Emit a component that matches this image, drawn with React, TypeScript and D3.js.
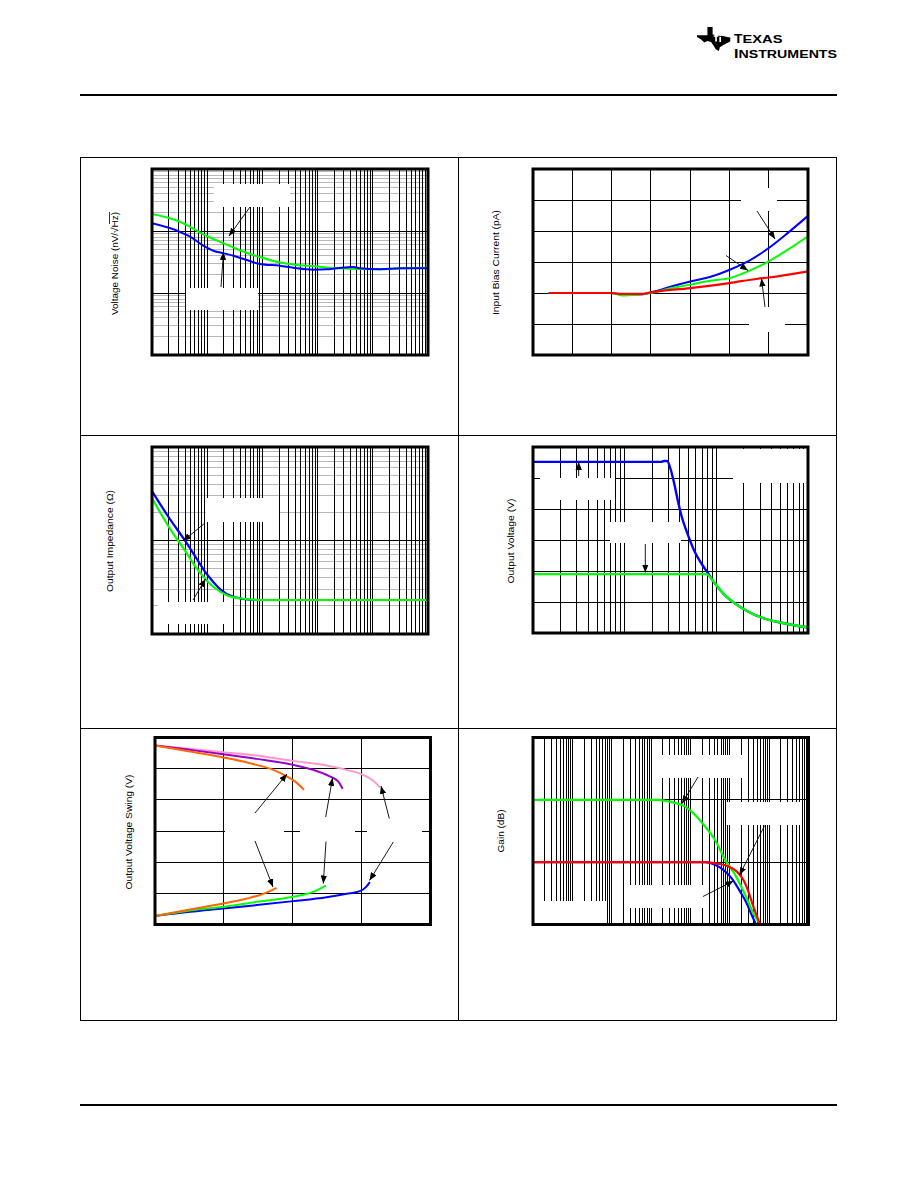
import React from 'react';
import * as d3 from 'd3';

type Pt = [number, number];
const zip = (xs: number[], ys: number[]): Pt[] => xs.map((x, i) => [x, ys[i]] as Pt);

// ---------------- Panel 1: Voltage noise vs frequency ----------------
const noiseGreenFreq = [1, 3.2, 4.9, 8.5, 20, 39, 90, 208, 418, 1100, 2220, 13500, 35700, 100000];
const noiseGreenVal = [188, 141, 117, 88, 63, 49, 38, 31, 28.3, 26.5, 25, 24.1, 25, 25.6];
const noiseBlueFreq = [1, 3.2, 4.9, 8.5, 12.9, 20, 29.7, 52, 90, 208, 363, 836, 1460, 2220, 4430, 5860, 13500, 31000, 100000];
const noiseBlueVal = [133, 97, 81, 58, 48, 43.6, 40, 34, 29.4, 27.5, 25.6, 23.8, 24.1, 25, 26.3, 25, 24.1, 25, 25];

// ---------------- Panel 2: Input bias current vs temperature ----------------
const biasTempBlue = [-40, 0, 7.3, 17.9, 25.3, 38, 50.1, 63.5, 75.2, 86.8, 100, 112.2, 125];
const biasBlue = [0, 0, -0.5, -0.5, 0.2, 2.1, 3.7, 5.3, 7.5, 10.2, 14.5, 19.4, 24.9];
const biasTempGreen = [-40, 0, 7.3, 25.3, 38, 50.1, 63.5, 75.2, 86.8, 100, 112.2, 125];
const biasGreen = [0, 0, -0.8, 0, 1.6, 2.7, 4.0, 4.8, 7.0, 10.2, 14.0, 18.3];
const biasTempRed = [-40, 0, 5, 20, 25, 50, 75, 93, 100, 125];
const biasRed = [0, 0, -0.3, -0.3, 0.2, 1.6, 3.2, 4.6, 5.0, 7.0];
const biasTempTicks = [-50, -25, 0, 25, 50, 75, 100, 125];
const biasValTicks = [-20, -10, 0, 10, 20, 30, 40];

// ---------------- Panel 3: Output impedance vs frequency ----------------
const zBlueFreq = [1, 2.1, 4.0, 6.5, 9.5, 12.9, 17, 29.7, 68, 100000];
const zBlue = [33.8, 17.0, 9.9, 6.34, 4.49, 3.6, 3.03, 2.5, 2.31, 2.31];
const zGreenFreq = [1, 2.1, 3.7, 6.5, 12.9, 22.6, 39, 90, 100000];
const zGreen = [28.3, 13.5, 8.3, 5.0, 3.2, 2.6, 2.41, 2.31, 2.31];

// ---------------- Panel 4: Max output voltage vs frequency ----------------
const voBlueFreq = [1000, 25100, 26900, 29000, 32300, 35100, 38200, 41500, 49100, 58100, 68500, 81100, 95900, 123000, 158000, 221000, 309000, 471000, 658000, 1000000];
const voBlue = [27.6, 27.6, 27.75, 27.75, 26.0, 23.8, 21.2, 19.0, 15.8, 13.1, 11.25, 9.65, 8.04, 6.16, 4.82, 3.47, 2.51, 1.77, 1.33, 0.9];
const voGreenFreq = [1000, 77600, 95900, 123000, 158000, 221000, 309000, 471000, 658000, 1000000];
const voGreen = [9.49, 9.49, 8.04, 6.16, 4.82, 3.47, 2.51, 1.77, 1.33, 0.9];
const voTicks = [0, 5, 10, 15, 20, 25, 30];

// ---------------- Panel 5: Output voltage swing vs output current ----------------
const swOrangeHiI = [0, 5.08, 9.92, 14.76, 17.18, 19.13, 20.33, 21.63];
const swOrangeHi = [13.72, 12.76, 11.8, 10.61, 9.81, 8.76, 7.96, 6.61];
const swPurpleI = [0, 5.08, 9.92, 14.76, 20.08, 22.98, 25.39, 26.6, 27.24];
const swPurple = [13.72, 13.02, 12.33, 11.57, 10.61, 9.81, 8.76, 7.96, 6.77];
const swPinkI = [0, 5.08, 9.92, 14.76, 20.08, 24.92, 27.82, 30.23, 31.68, 32.65];
const swPink = [13.72, 13.18, 12.65, 12.12, 11.25, 10.52, 9.81, 9.01, 8.05, 7.0];
const swOrangeLoI = [0, 5.08, 9.92, 13.31, 15.72, 17.66];
const swOrangeLo = [-13.65, -12.6, -11.64, -10.84, -10.08, -9.12];
const swGreenI = [0, 5.08, 9.92, 14.76, 20.08, 22.98, 24.82];
const swGreen = [-13.65, -12.76, -12.16, -11.36, -10.56, -9.76, -8.76];
const swBlueI = [0, 5.08, 9.92, 14.76, 20.08, 24.92, 27.82, 29.75, 30.62, 31.2];
const swBlue = [-13.65, -12.97, -12.44, -11.89, -11.25, -10.61, -10.08, -9.65, -9.01, -8.21];
const swITicks = [0, 10, 20, 30, 40];
const swVTicks = [-15, -10, -5, 0, 5, 10, 15];

// ---------------- Panel 6: Gain vs frequency ----------------
const gGreenFreq = [10, 15100, 33000, 72400, 130000, 234000, 420000, 755000, 1360000, 2440000, 3960000, 5870000];
const gGreen = [20, 20, 19.26, 17.9, 15.2, 11.5, 7.2, 0.8, -4.0, -10.4, -16.3, -20];
const gRedFreq = [10, 234000, 509000, 916000, 1490000, 2210000, 2960000, 3960000, 5090000, 5870000];
const gRed = [0, 0, -0.5, -1.35, -2.95, -5.64, -9.36, -14.2, -17.9, -20];
const gBlueFreq = [10, 234000, 420000, 684000, 1110000, 1820000, 2670000, 3590000, 4650000];
const gBlue = [0, 0, -0.83, -2.44, -5.1, -9.36, -13.1, -16.9, -20];
const gTicks = [-20, 0, 20, 40];

// ---------------- helpers ----------------
function logValues(lo: number, hi: number): number[] {
  const out: number[] = [];
  const d0 = Math.round(Math.log10(lo));
  const d1 = Math.round(Math.log10(hi));
  for (let d = d0; d < d1; d++) for (let k = 1; k <= 9; k++) out.push(k * Math.pow(10, d));
  out.push(hi);
  return out;
}
const isDecade = (v: number) => Math.abs(Math.log10(v) - Math.round(Math.log10(v))) < 1e-9;

type Series = { data: Pt[]; color: string; width?: number };
type GridLine = { v: number; color: string };

interface PlotProps {
  id: string;
  x0: number; x1: number; y0: number; y1: number;
  xLog: boolean; xDomain: [number, number];
  yLog: boolean; yDomain: [number, number];
  vGrid: GridLine[]; hGrid: GridLine[];
  series: Series[];
  whites: number[][];
  arrows: number[][];
  title: string; tx: number; ty: number; tlen: number;
}

function Plot(p: PlotProps) {
  const xs = (p.xLog ? d3.scaleLog() : d3.scaleLinear()).domain(p.xDomain).range([p.x0, p.x1]);
  const ys = (p.yLog ? d3.scaleLog() : d3.scaleLinear()).domain(p.yDomain).range([p.y1, p.y0]);
  const line = d3.line<Pt>().x(d => xs(d[0])).y(d => ys(d[1])).curve(d3.curveMonotoneX);
  const hSorted = [...p.hGrid].sort((a, b) => (a.color === '#000' ? 1 : 0) - (b.color === '#000' ? 1 : 0));
  return (
    <g>
      <defs>
        <clipPath id={p.id}>
          <rect x={p.x0} y={p.y0} width={p.x1 - p.x0} height={p.y1 - p.y0} />
        </clipPath>
      </defs>
      <g shapeRendering="crispEdges">
        {hSorted.map((g, i) => (
          <line key={'h' + i} x1={p.x0} x2={p.x1} y1={ys(g.v)} y2={ys(g.v)} stroke={g.color} strokeWidth={1} />
        ))}
        {p.vGrid.map((g, i) => (
          <line key={'v' + i} x1={xs(g.v)} x2={xs(g.v)} y1={p.y0} y2={p.y1} stroke={g.color} strokeWidth={1} />
        ))}
        {p.whites.map((w, i) => (
          <rect key={'w' + i} x={w[0]} y={w[1]} width={w[2] - w[0]} height={w[3] - w[1]} fill="#fff" />
        ))}
      </g>
      <g clipPath={`url(#${p.id})`}>
        {p.series.map((s, i) => (
          <path key={'s' + i} d={line(s.data) || ''} fill="none" stroke={s.color} strokeWidth={s.width ?? 2} strokeLinejoin="round" />
        ))}
      </g>
      {p.arrows.map((a, i) => (
        <line key={'a' + i} x1={a[0]} y1={a[1]} x2={a[2]} y2={a[3]} stroke="#000" strokeWidth={0.9} markerEnd="url(#ah)" />
      ))}
      <rect x={p.x0} y={p.y0} width={p.x1 - p.x0} height={p.y1 - p.y0} fill="none" stroke="#000" strokeWidth={3} />
      <text
        transform={`translate(${p.tx},${p.ty}) rotate(-90)`}
        textAnchor="middle"
        dominantBaseline="central"
        fontFamily="'Liberation Sans', Arial, sans-serif"
        fontSize={9.5}
        textLength={p.tlen}
        lengthAdjust="spacingAndGlyphs"
        fill="#000"
      >
        {p.title}
      </text>
    </g>
  );
}

const logV = (lo: number, hi: number): GridLine[] => logValues(lo, hi).map(v => ({ v, color: '#000' }));
const logH = (lo: number, hi: number): GridLine[] =>
  logValues(lo, hi).map(v => ({ v, color: isDecade(v) ? '#000' : '#b8b8b8' }));
const linG = (vals: number[]): GridLine[] => vals.map(v => ({ v, color: '#000' }));

export default function App() {
  const BLUE = '#0000ff';
  const GREEN = '#00ff00';
  const RED = '#ff0000';
  const ORANGE = '#ff6600';
  const PURPLE = '#9900cc';
  const PINK = '#ff99cc';

  return (
    <svg
      width={918}
      height={1188}
      viewBox="0 0 918 1188"
      style={{ position: 'absolute', left: 0, top: 0, background: '#fff' }}
    >
      <defs>
        <marker id="ah" viewBox="0 0 10 8" refX={10} refY={4} markerWidth={8} markerHeight={6.5} markerUnits="userSpaceOnUse" orient="auto">
          <path d="M0,0 L10,4 L0,8 Z" fill="#000" />
        </marker>
      </defs>

      {/* TI logo */}
      <g transform="translate(697,27) scale(1.04)">
        <path
          d="M10,0 L15,0 L15,7 L19,8.5 L24,8.5 L29,9.5 L32,10 L32,14 L29,15.5 L25,17.5 L22,19.5 L21,23 L18,21.5 L16,18 L13.5,14.5 L10,13.5 L7,15 L4,12 L0,9.5 L0,8 L10,8 Z"
          fill="#000"
        />
        <rect x={17.5} y={6} width={1.6} height={8} fill="#fff" />
        <rect x={16} y={8} width={4.5} height={1.4} fill="#fff" />
        <rect x={21.5} y={9.5} width={1.6} height={5} fill="#fff" />
        <rect x={21.5} y={6.8} width={1.6} height={1.6} fill="#fff" />
      </g>
      <text fontFamily="'Liberation Sans', Arial, sans-serif" fill="#000" fontWeight="bold">
        <tspan x={734} y={42.5} fontSize={13.5} textLength={8.5} lengthAdjust="spacingAndGlyphs">T</tspan>
        <tspan fontSize={10.5} textLength={40} lengthAdjust="spacingAndGlyphs">EXAS</tspan>
      </text>
      <text fontFamily="'Liberation Sans', Arial, sans-serif" fill="#000" fontWeight="bold">
        <tspan x={734} y={57.5} fontSize={13.5} textLength={4.5} lengthAdjust="spacingAndGlyphs">I</tspan>
        <tspan fontSize={10.5} textLength={98.5} lengthAdjust="spacingAndGlyphs">NSTRUMENTS</tspan>
      </text>

      {/* header / footer rules */}
      <line x1={80} x2={837} y1={95} y2={95} stroke="#000" strokeWidth={2} />
      <line x1={80} x2={837} y1={1105} y2={1105} stroke="#000" strokeWidth={2} />

      {/* frame */}
      <g shapeRendering="crispEdges" stroke="#000" strokeWidth={1} fill="none">
        <rect x={80.5} y={157.5} width={756} height={863} />
        <line x1={458.5} x2={458.5} y1={157.5} y2={1020.5} />
        <line x1={80.5} x2={836.5} y1={435.5} y2={435.5} />
        <line x1={80.5} x2={836.5} y1={728.5} y2={728.5} />
      </g>

      {/* Panel 1 */}
      <Plot
        id="c1" x0={152} x1={428} y0={169} y1={355}
        xLog xDomain={[1, 100000]} yLog yDomain={[1, 1000]}
        vGrid={logV(1, 100000)} hGrid={logH(1, 1000)}
        series={[
          { data: zip(noiseGreenFreq, noiseGreenVal), color: GREEN },
          { data: zip(noiseBlueFreq, noiseBlueVal), color: BLUE },
        ]}
        whites={[[214, 184, 290, 207], [186, 288, 258, 310]]}
        arrows={[[250, 207, 229, 236], [221, 287, 223.5, 252]]}
        title="Voltage Noise (nV/√Hz)" tx={114.5} ty={263.5} tlen={103}
      />
      <line x1={109.5} x2={109.5} y1={212} y2={224} stroke="#000" strokeWidth={0.8} />

      {/* Panel 2 */}
      <Plot
        id="c2" x0={533} x1={808} y0={169} y1={355}
        xLog={false} xDomain={[-50, 125]} yLog={false} yDomain={[-20, 40]}
        vGrid={linG(biasTempTicks)} hGrid={linG(biasValTicks)}
        series={[
          { data: zip(biasTempBlue, biasBlue), color: BLUE },
          { data: zip(biasTempGreen, biasGreen), color: GREEN },
          { data: zip(biasTempRed, biasRed), color: RED, width: 2.2 },
        ]}
        whites={[[741, 188, 777, 211], [749, 307, 785, 332]]}
        arrows={[[757, 211, 775, 239], [726, 255.5, 748, 270.5], [765, 307, 761.5, 278.5]]}
        title="Input Bias Current (pA)" tx={495} ty={262.5} tlen={105}
      />

      {/* Panel 3 */}
      <Plot
        id="c3" x0={152} x1={428} y0={447} y1={634}
        xLog xDomain={[1, 100000]} yLog yDomain={[1, 100]}
        vGrid={logV(1, 100000)} hGrid={logH(1, 100)}
        series={[
          { data: zip(zBlueFreq, zBlue), color: BLUE, width: 2.2 },
          { data: zip(zGreenFreq, zGreen), color: GREEN, width: 2.2 },
        ]}
        whites={[[206, 498, 279, 522], [158, 601.5, 232, 624]]}
        arrows={[[205, 523, 183, 541], [193, 600, 205.5, 579]]}
        title="Output Impedance (Ω)" tx={109.5} ty={541} tlen={102}
      />

      {/* Panel 4 */}
      <Plot
        id="c4" x0={533} x1={808} y0={447} y1={633}
        xLog xDomain={[1000, 1000000]} yLog={false} yDomain={[0, 30]}
        vGrid={logV(1000, 1000000)} hGrid={linG(voTicks)}
        series={[
          { data: zip(voBlueFreq, voBlue), color: BLUE, width: 2.4 },
          { data: zip(voGreenFreq, voGreen), color: GREEN, width: 2.4 },
        ]}
        whites={[[733, 448.5, 806.5, 483], [540, 478, 615, 500], [610, 521.5, 681, 542.5]]}
        arrows={[[578.7, 476, 578.7, 462], [645.3, 544, 645.3, 572.5]]}
        title="Output Voltage (V)" tx={510.5} ty={541} tlen={85}
      />

      {/* Panel 5 */}
      <Plot
        id="c5" x0={155} x1={430.5} y0={737.5} y1={924.5}
        xLog={false} xDomain={[0, 40]} yLog={false} yDomain={[-15, 15]}
        vGrid={linG(swITicks)} hGrid={linG(swVTicks)}
        series={[
          { data: zip(swPinkI, swPink), color: PINK },
          { data: zip(swPurpleI, swPurple), color: PURPLE },
          { data: zip(swOrangeHiI, swOrangeHi), color: ORANGE },
          { data: zip(swBlueI, swBlue), color: BLUE },
          { data: zip(swGreenI, swGreen), color: GREEN },
          { data: zip(swOrangeLoI, swOrangeLo), color: ORANGE },
        ]}
        whites={[[225, 814, 284, 840], [300, 814, 355, 840], [367, 814, 421.5, 840]]}
        arrows={[
          [255, 813, 287, 774], [325.7, 817, 332.5, 778], [389.3, 818.5, 381, 786],
          [255, 841, 273, 887], [326, 841.5, 323.3, 883.5], [393.3, 842, 369.5, 880.5],
        ]}
        title="Output Voltage Swing (V)" tx={128.5} ty={832} tlen={115}
      />

      {/* Panel 6 */}
      <Plot
        id="c6" x0={533} x1={808.5} y0={737.5} y1={924.5}
        xLog xDomain={[10, 100000000]} yLog={false} yDomain={[-20, 40]}
        vGrid={logV(10, 100000000)} hGrid={linG(gTicks)}
        series={[
          { data: zip(gBlueFreq, gBlue), color: BLUE, width: 2.2 },
          { data: zip(gGreenFreq, gGreen), color: GREEN, width: 2.2 },
          { data: zip(gRedFreq, gRed), color: RED, width: 2.2 },
        ]}
        whites={[[534.5, 901, 606, 923], [653, 755, 745, 778], [726, 802, 801, 825], [630, 885, 703, 908]]}
        arrows={[[698, 777, 682, 803.5], [764.7, 825.5, 739.5, 875], [703, 896.5, 733.5, 881]]}
        title="Gain (dB)" tx={500} ty={831} tlen={43}
      />
    </svg>
  );
}
